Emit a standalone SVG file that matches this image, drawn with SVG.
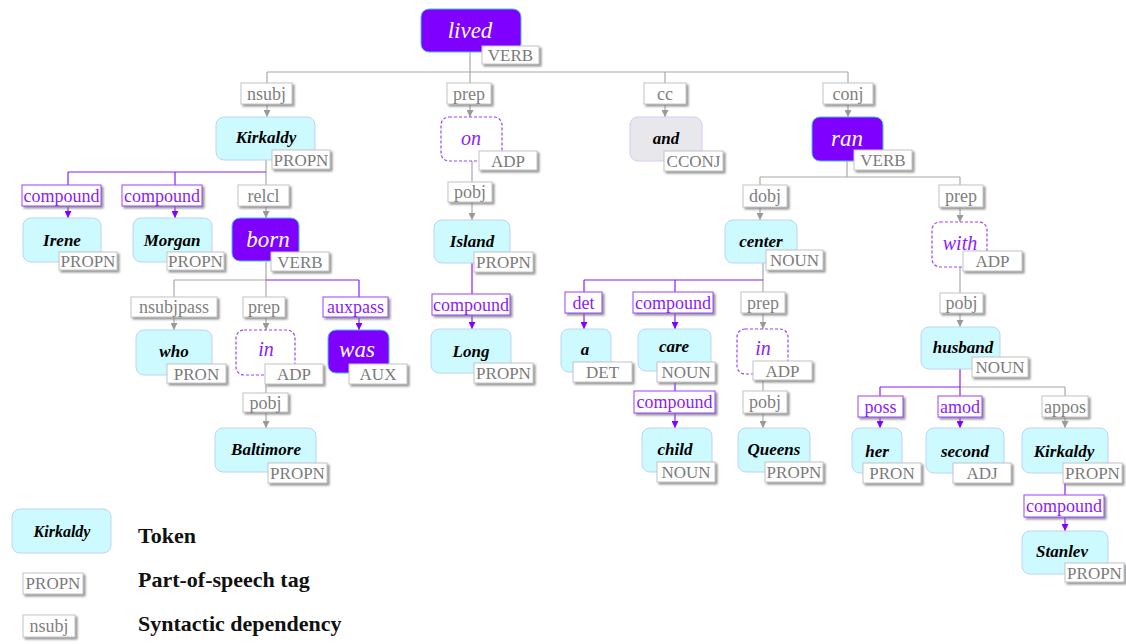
<svg xmlns="http://www.w3.org/2000/svg" width="1126" height="644" viewBox="0 0 1126 644" font-family="'Liberation Serif', 'Times New Roman', 'DejaVu Serif', 'Noto Serif', serif">
<defs>
<filter id="sh" x="-20%" y="-30%" width="150%" height="180%">
<feDropShadow dx="2" dy="2" stdDeviation="0.8" flood-color="#777" flood-opacity="0.8"/>
</filter>
<marker id="ag" viewBox="0 0 10 10" refX="10" refY="5" markerWidth="7" markerHeight="7" markerUnits="userSpaceOnUse" orient="auto"><path d="M0 0 L10 5 L0 10 Z" fill="#999"/></marker>
<marker id="ap" viewBox="0 0 10 10" refX="10" refY="5" markerWidth="7" markerHeight="7" markerUnits="userSpaceOnUse" orient="auto"><path d="M0 0 L10 5 L0 10 Z" fill="#8000ff"/></marker>
<style>
text{font-family:'Liberation Serif','Times New Roman','DejaVu Serif','Noto Serif',serif;text-anchor:middle}
.tok{fill:#cdfaff;stroke:#bcd3f5;stroke-width:1}
.vb{fill:#7f00ff;stroke:#40c4f2;stroke-width:1}
.ad{fill:#fff;stroke:#9b40ff;stroke-width:1.2;stroke-dasharray:3 2}
.cj{fill:#e8e8ec;stroke:#dcc8f4;stroke-width:1}
.tw{font-weight:bold;font-style:italic;font-size:17px;fill:#000}
.vw{font-style:italic;font-size:23px;fill:#fff}
.aw{font-style:italic;font-size:20px;fill:#8a1cff}
.tg{fill:#fff;stroke:#c4c4c4;stroke-width:1;filter:url(#sh)}
.tt{font-size:17px;fill:#7a7a7a}
.dg{fill:#fff;stroke:#c4c4c4;stroke-width:1;filter:url(#sh)}
.dp{fill:#fff;stroke:#9b40ff;stroke-width:1;filter:url(#sh)}
.lg{font-size:18px;fill:#808080}
.lp{font-size:18px;fill:#8a1cff}
.eg{fill:none;stroke:#a8a8a8;stroke-width:1.2}
.ep{fill:none;stroke:#8a1cff;stroke-width:1.2}
.leg{font-weight:bold;font-size:22px;fill:#111;text-anchor:start}
</style>
</defs>
<rect width="1126" height="644" fill="#fff"/>
<g id="connectors">
<path class="eg" d="M470 52 V72 M267 72 H848 M266 160 V172 M266 262 V280 M174 280 H266 M847 161 V177 M760 177 H960 M960 387 H1065"/>
<path class="eg" marker-end="url(#ag)" d="M267 72 V117"/>
<path class="eg" marker-end="url(#ag)" d="M470 72 V117"/>
<path class="eg" marker-end="url(#ag)" d="M665 72 V117"/>
<path class="eg" marker-end="url(#ag)" d="M848 72 V117"/>
<path class="eg" marker-end="url(#ag)" d="M266 172 V218"/>
<path class="eg" marker-end="url(#ag)" d="M174 280 V330"/>
<path class="eg" marker-end="url(#ag)" d="M266 280 V330"/>
<path class="eg" marker-end="url(#ag)" d="M266 375 V428"/>
<path class="eg" marker-end="url(#ag)" d="M472 161 V220"/>
<path class="eg" marker-end="url(#ag)" d="M760 177 V220"/>
<path class="eg" marker-end="url(#ag)" d="M960 177 V222"/>
<path class="eg" marker-end="url(#ag)" d="M763 263 V329"/>
<path class="eg" marker-end="url(#ag)" d="M763 374 V428"/>
<path class="eg" marker-end="url(#ag)" d="M960 267 V327"/>
<path class="eg" marker-end="url(#ag)" d="M1065 387 V428"/>
<path class="ep" d="M68 172 H266 M266 280 H359 M584 280 H763 M880 387 H960"/>
<path class="ep" marker-end="url(#ap)" d="M68 172 V218"/>
<path class="ep" marker-end="url(#ap)" d="M175 172 V218"/>
<path class="ep" marker-end="url(#ap)" d="M359 280 V330"/>
<path class="ep" marker-end="url(#ap)" d="M472 263 V329"/>
<path class="ep" marker-end="url(#ap)" d="M584 280 V329"/>
<path class="ep" marker-end="url(#ap)" d="M675 280 V329"/>
<path class="ep" marker-end="url(#ap)" d="M675 371 V428"/>
<path class="ep" marker-end="url(#ap)" d="M960 369 V428"/>
<path class="ep" marker-end="url(#ap)" d="M880 387 V428"/>
<path class="ep" marker-end="url(#ap)" d="M1065 473 V531"/>
<g id="dep-labels">
<rect class="dg" x="241" y="83" width="51" height="21"/><text class="lg" x="266.5" y="99.5">nsubj</text>
<rect class="dg" x="447" y="83" width="44" height="21"/><text class="lg" x="469" y="99.5">prep</text>
<rect class="dg" x="644" y="83" width="42" height="21"/><text class="lg" x="665" y="99.5">cc</text>
<rect class="dg" x="823" y="83" width="50" height="21"/><text class="lg" x="848" y="99.5">conj</text>
<rect class="dp" x="22" y="185" width="79" height="21"/><text class="lp" x="61.5" y="201.5">compound</text>
<rect class="dp" x="122" y="185" width="80" height="21"/><text class="lp" x="162" y="201.5">compound</text>
<rect class="dg" x="238" y="185" width="51" height="21"/><text class="lg" x="263.5" y="201.5">relcl</text>
<rect class="dg" x="131" y="297" width="86" height="20"/><text class="lg" x="174" y="313">nsubjpass</text>
<rect class="dg" x="243" y="297" width="42" height="20"/><text class="lg" x="264" y="313">prep</text>
<rect class="dp" x="323" y="297" width="65" height="20"/><text class="lp" x="355.5" y="313">auxpass</text>
<rect class="dg" x="243" y="393" width="45" height="19"/><text class="lg" x="265.5" y="408.5">pobj</text>
<rect class="dg" x="448" y="182" width="44" height="20"/><text class="lg" x="470" y="198">pobj</text>
<rect class="dp" x="432" y="294" width="78" height="21"/><text class="lp" x="471" y="310.5">compound</text>
<rect class="dg" x="743" y="185" width="44" height="22"/><text class="lg" x="765" y="202">dobj</text>
<rect class="dg" x="939" y="185" width="44" height="22"/><text class="lg" x="961" y="202">prep</text>
<rect class="dp" x="565" y="292" width="37" height="21"/><text class="lp" x="583.5" y="308.5">det</text>
<rect class="dp" x="633" y="292" width="80" height="21"/><text class="lp" x="673" y="308.5">compound</text>
<rect class="dg" x="741" y="292" width="44" height="21"/><text class="lg" x="763" y="308.5">prep</text>
<rect class="dp" x="634" y="391" width="81" height="22"/><text class="lp" x="674.5" y="408">compound</text>
<rect class="dg" x="743" y="391" width="44" height="22"/><text class="lg" x="765" y="408">pobj</text>
<rect class="dg" x="940" y="293" width="43" height="20"/><text class="lg" x="961.5" y="309">pobj</text>
<rect class="dp" x="858" y="396" width="45" height="21"/><text class="lp" x="880.5" y="412.5">poss</text>
<rect class="dp" x="938" y="396" width="44" height="21"/><text class="lp" x="960" y="412.5">amod</text>
<rect class="dg" x="1042" y="396" width="46" height="21"/><text class="lg" x="1065" y="412.5">appos</text>
<rect class="dp" x="1024" y="495" width="80" height="22"/><text class="lp" x="1064" y="512">compound</text>
</g>
</g>
<g id="n-lived"><rect class="vb" x="421" y="9" width="100" height="43" rx="8"/><text class="vw" x="470" y="38">lived</text><rect class="tg" x="482" y="46" width="57" height="18"/><text class="tt" x="510.5" y="61">VERB</text></g>
<g id="n-kirkaldy"><rect class="tok" x="216" y="117" width="99" height="43" rx="8"/><text class="tw" x="266" y="143">Kirkaldy</text><rect class="tg" x="272" y="150" width="58" height="19"/><text class="tt" x="301" y="165.5">PROPN</text></g>
<g id="n-on"><rect class="ad" x="441" y="117" width="61" height="44" rx="8"/><text class="aw" x="471" y="145">on</text><rect class="tg" x="479" y="151" width="58" height="19"/><text class="tt" x="508" y="166.5">ADP</text></g>
<g id="n-and"><rect class="cj" x="630" y="117" width="72" height="44" rx="8"/><text class="tw" x="666" y="144">and</text><rect class="tg" x="664" y="151" width="59" height="20"/><text class="tt" x="693.5" y="167">CCONJ</text></g>
<g id="n-ran"><rect class="vb" x="812" y="117" width="71" height="44" rx="8"/><text class="vw" x="847" y="146">ran</text><rect class="tg" x="854" y="150" width="58" height="20"/><text class="tt" x="883" y="166">VERB</text></g>
<g id="n-irene"><rect class="tok" x="23" y="218" width="78" height="44" rx="8"/><text class="tw" x="62" y="246">Irene</text><rect class="tg" x="59" y="252" width="58" height="18"/><text class="tt" x="88" y="267">PROPN</text></g>
<g id="n-morgan"><rect class="tok" x="133" y="218" width="79" height="44" rx="8"/><text class="tw" x="172" y="246">Morgan</text><rect class="tg" x="167" y="252" width="57" height="18"/><text class="tt" x="195.5" y="267">PROPN</text></g>
<g id="n-born"><rect class="vb" x="232" y="218" width="67" height="43" rx="8"/><text class="vw" x="268" y="247">born</text><rect class="tg" x="271" y="252" width="58" height="19"/><text class="tt" x="300" y="267.5">VERB</text></g>
<g id="n-who"><rect class="tok" x="136" y="330" width="76" height="45" rx="8"/><text class="tw" x="174" y="357">who</text><rect class="tg" x="167" y="364" width="59" height="19"/><text class="tt" x="196.5" y="379.5">PRON</text></g>
<g id="n-in1"><rect class="ad" x="236" y="330" width="59" height="45" rx="8"/><text class="aw" x="266" y="356">in</text><rect class="tg" x="265" y="364" width="58" height="20"/><text class="tt" x="294" y="380">ADP</text></g>
<g id="n-was"><rect class="vb" x="328" y="330" width="61" height="43" rx="8"/><text class="vw" x="357" y="357">was</text><rect class="tg" x="349" y="364" width="58" height="20"/><text class="tt" x="378" y="380">AUX</text></g>
<g id="n-baltimore"><rect class="tok" x="215" y="428" width="101" height="44" rx="8"/><text class="tw" x="266" y="455">Baltimore</text><rect class="tg" x="268" y="463" width="59" height="20"/><text class="tt" x="297.5" y="479">PROPN</text></g>
<g id="n-island"><rect class="tok" x="434" y="220" width="76" height="43" rx="8"/><text class="tw" x="472" y="247">Island</text><rect class="tg" x="474" y="252" width="59" height="20"/><text class="tt" x="503.5" y="268">PROPN</text></g>
<g id="n-long"><rect class="tok" x="431" y="329" width="80" height="44" rx="8"/><text class="tw" x="471" y="357">Long</text><rect class="tg" x="474" y="363" width="59" height="20"/><text class="tt" x="503.5" y="379">PROPN</text></g>
<g id="n-center"><rect class="tok" x="725" y="220" width="72" height="43" rx="8"/><text class="tw" x="761" y="247">center</text><rect class="tg" x="766" y="250" width="57" height="20"/><text class="tt" x="794.5" y="266">NOUN</text></g>
<g id="n-with"><rect class="ad" x="932" y="222" width="55" height="45" rx="8"/><text class="aw" x="960" y="250">with</text><rect class="tg" x="963" y="251" width="59" height="20"/><text class="tt" x="992.5" y="267">ADP</text></g>
<g id="n-a"><rect class="tok" x="561" y="329" width="50" height="43" rx="8"/><text class="tw" x="585" y="355">a</text><rect class="tg" x="573" y="362" width="59" height="20"/><text class="tt" x="602.5" y="378">DET</text></g>
<g id="n-care"><rect class="tok" x="638" y="329" width="73" height="42" rx="8"/><text class="tw" x="674" y="352">care</text><rect class="tg" x="657" y="362" width="58" height="20"/><text class="tt" x="686" y="378">NOUN</text></g>
<g id="n-in2"><rect class="ad" x="737" y="329" width="51" height="45" rx="8"/><text class="aw" x="763" y="355">in</text><rect class="tg" x="753" y="361" width="59" height="19"/><text class="tt" x="782.5" y="376.5">ADP</text></g>
<g id="n-child"><rect class="tok" x="642" y="428" width="70" height="44" rx="8"/><text class="tw" x="675" y="455">child</text><rect class="tg" x="657" y="462" width="58" height="20"/><text class="tt" x="686" y="478">NOUN</text></g>
<g id="n-queens"><rect class="tok" x="738" y="428" width="72" height="44" rx="8"/><text class="tw" x="774" y="455">Queens</text><rect class="tg" x="765" y="462" width="58" height="20"/><text class="tt" x="794" y="478">PROPN</text></g>
<g id="n-husband"><rect class="tok" x="921" y="327" width="79" height="42" rx="8"/><text class="tw" x="963" y="353">husband</text><rect class="tg" x="972" y="357" width="56" height="20"/><text class="tt" x="1000" y="373">NOUN</text></g>
<g id="n-her"><rect class="tok" x="852" y="428" width="50" height="45" rx="8"/><text class="tw" x="877" y="457">her</text><rect class="tg" x="863" y="463" width="58" height="20"/><text class="tt" x="892" y="479">PRON</text></g>
<g id="n-second"><rect class="tok" x="926" y="428" width="78" height="45" rx="8"/><text class="tw" x="965" y="457">second</text><rect class="tg" x="953" y="463" width="58" height="20"/><text class="tt" x="982" y="479">ADJ</text></g>
<g id="n-kirkaldy2"><rect class="tok" x="1022" y="428" width="86" height="45" rx="8"/><text class="tw" x="1064" y="457">Kirkaldy</text><rect class="tg" x="1063" y="463" width="59" height="20"/><text class="tt" x="1092.5" y="479">PROPN</text></g>
<g id="n-stanlev"><rect class="tok" x="1022" y="531" width="86" height="43" rx="8"/><text class="tw" x="1062" y="557">Stanlev</text><rect class="tg" x="1065" y="563" width="59" height="19"/><text class="tt" x="1094.5" y="578.5">PROPN</text></g>
<g id="legend">
<rect class="tok" x="12" y="509" width="99" height="44" rx="8"/><text class="tw" x="62" y="537" style="font-size:16px">Kirkaldy</text>
<text class="leg" x="138" y="543">Token</text>
<rect class="tg" x="23" y="573" width="60" height="21"/><text class="tt" x="53" y="589">PROPN</text>
<text class="leg" x="138" y="587">Part-of-speech tag</text>
<rect class="dg" x="23" y="615" width="52" height="22"/><text class="lg" x="49" y="631.5">nsubj</text>
<text class="leg" x="138" y="631">Syntactic dependency</text>
</g>
</svg>
